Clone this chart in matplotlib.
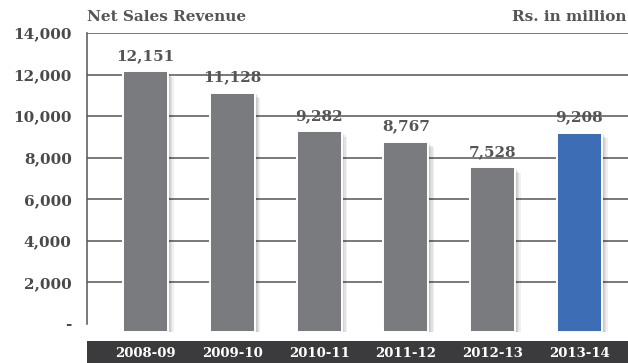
import matplotlib
matplotlib.use("Agg")
import matplotlib.pyplot as plt
import matplotlib.patheffects as pe
from matplotlib.ticker import FixedLocator

# Datos: ventas netas por año fiscal (Rs. millones)
years = ["2008-09", "2009-10", "2010-11", "2011-12", "2012-13", "2013-14"]
sales = [12151, 11128, 9282, 8767, 7528, 9208]
value_labels = ["12,151", "11,128", "9,282", "8,767", "7,528", "9,208"]
ytick_vals = [0, 2000, 4000, 6000, 8000, 10000, 12000, 14000]
ytick_labels = ["-", "2,000", "4,000", "6,000", "8,000", "10,000", "12,000", "14,000"]

gray_bar = "#7a7b7f"
blue_bar = "#3d6db5"
text_col = "#4a4a4a"
font = "DejaVu Serif"

fig = plt.figure(figsize=(6.28, 3.63), dpi=100)
ax = fig.add_axes([0.1385, 0.0854, 0.8615, 0.8236])

ymin, ymax = -390, 14000
ax.set_ylim(ymin, ymax)
ax.set_xlim(-0.674, 5.559)

# Lineas de referencia detras de las barras
for v in ytick_vals[1:]:
    ax.axhline(v, color="#555555", lw=1.1, zorder=1)

colors = [gray_bar] * (len(sales) - 1) + [blue_bar]
x = list(range(len(sales)))
bars = ax.bar(x, [s - ymin for s in sales], bottom=ymin, width=0.52,
              color=colors, edgecolor="white", linewidth=1.4, zorder=3)
# sombra difusa: varias capas desplazadas
shadow = [pe.SimplePatchShadow(offset=(d, -d), shadow_rgbFace="#000000", alpha=0.06)
          for d in (4.0, 3.0, 2.0, 1.2)]
for b in bars:
    b.set_path_effects(shadow + [pe.Normal()])

# Etiquetas de valor sobre cada barra
for xi, s, lab in zip(x, sales, value_labels):
    ax.annotate(lab, (xi, s), xytext=(0, 6), textcoords="offset points",
                ha="center", va="bottom", fontsize=11, fontweight="bold",
                family=font, color="#555555")

for sp in ["top", "right", "bottom"]:
    ax.spines[sp].set_visible(False)
ax.spines["left"].set_bounds(0, ymax)
ax.spines["left"].set_color("#555555")
ax.spines["left"].set_linewidth(1.1)

ax.yaxis.set_major_locator(FixedLocator(ytick_vals))
ax.set_yticklabels(ytick_labels)
ax.tick_params(axis="y", length=0, pad=11)
for t in ax.get_yticklabels():
    t.set_fontfamily(font)
    t.set_fontweight("bold")
    t.set_fontsize(11)
    t.set_color(text_col)
ax.set_xticks([])

# Franja oscura con los años
band = fig.add_axes([0.1385, 0.0, 0.8615, 22 / 363])
band.set_facecolor("#3b3b3d")
band.set_xlim(ax.get_xlim())
band.set_ylim(0, 1)
band.set_xticks([])
band.set_yticks([])
for sp in band.spines.values():
    sp.set_visible(False)
for xi, yr in zip(x, years):
    band.text(xi, 0.45, yr, ha="center", va="center", color="white",
              fontsize=9.5, fontweight="bold", family=font)

fig.text(0.1385, 0.952, "Net Sales Revenue", ha="left", va="center",
         fontsize=11, fontweight="bold", family=font, color="#555555")
fig.text(0.997, 0.952, "Rs. in million", ha="right", va="center",
         fontsize=11, fontweight="bold", family=font, color="#555555")

fig.savefig("out.png", dpi=100)
